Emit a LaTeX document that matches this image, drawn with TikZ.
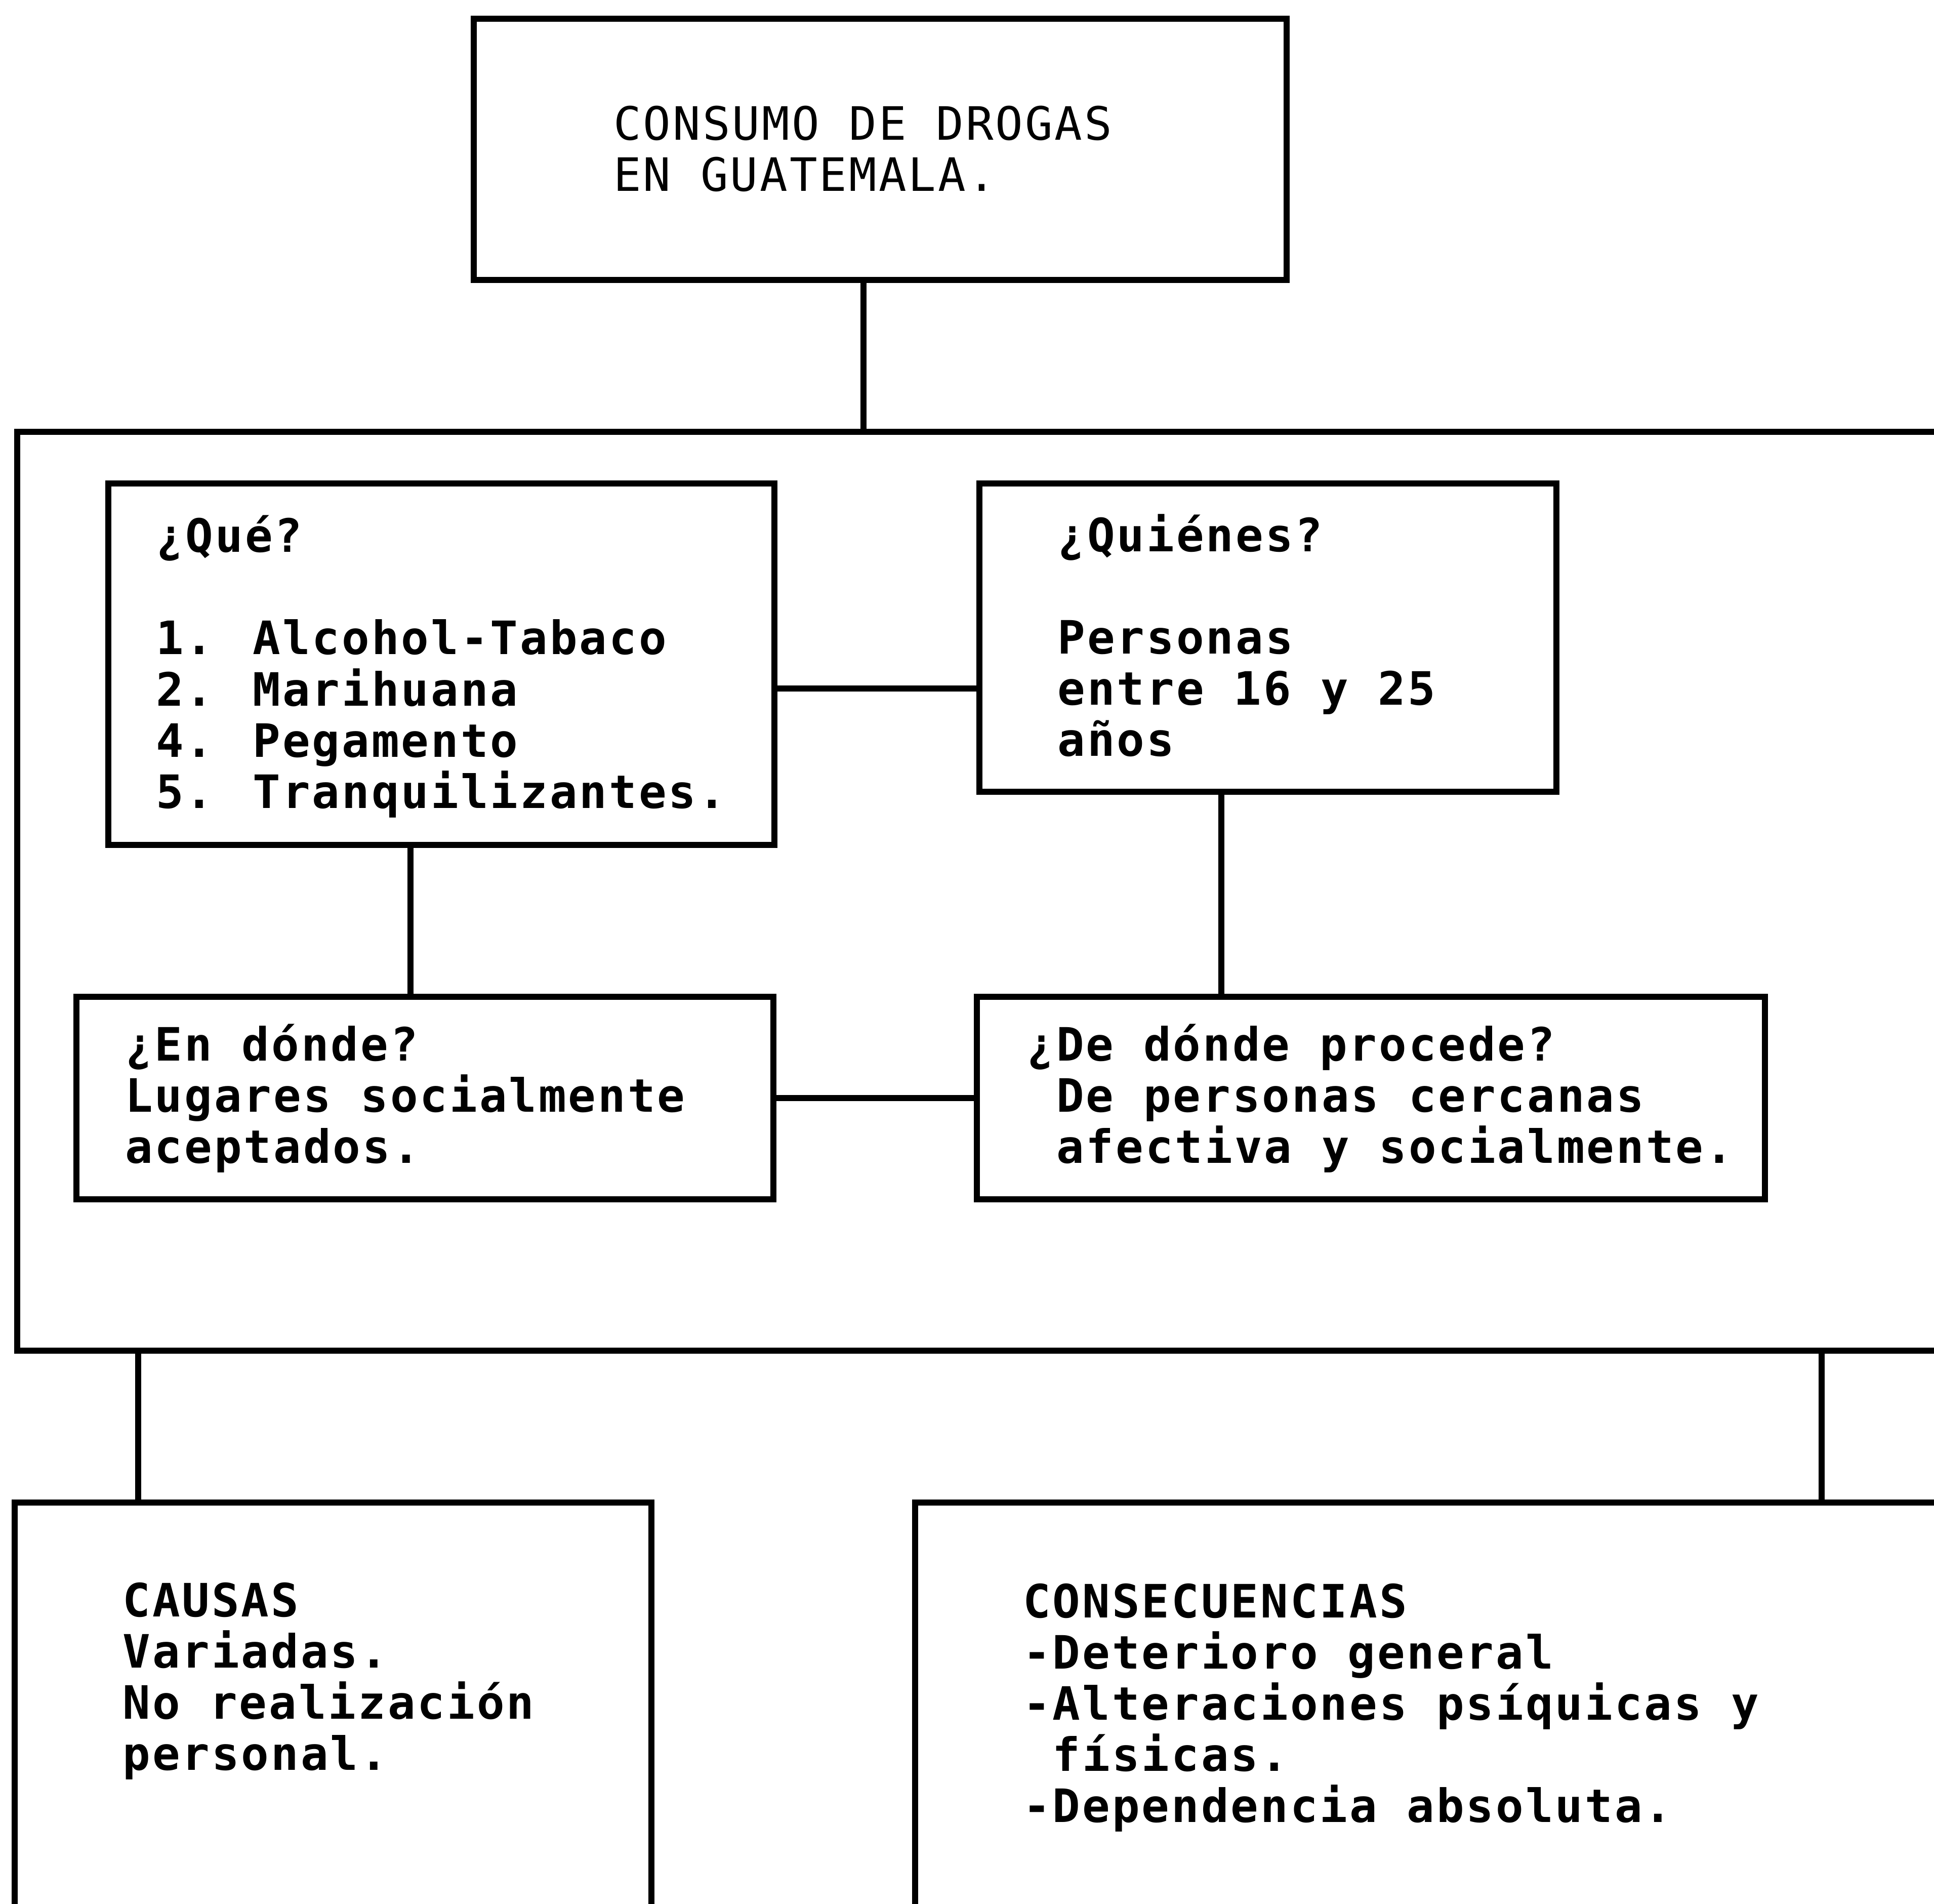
\documentclass[tikz,border=0pt]{standalone}
\usepackage{fontspec}
\newfontfamily\chartfont[LetterSpace=4.4]{DejaVu Sans Mono}
\usetikzlibrary{fit}

\begin{document}
\begin{tikzpicture}[x=0.1mm, y=-0.1mm, line width=1.4pt,
    box/.style={draw, inner sep=0pt},
    txt/.style={anchor=base west, align=left, inner sep=0pt,
        font=\chartfont\bfseries\fontsize{10.6pt}{11.8pt}\selectfont},
    headtxt/.style={txt, font=\chartfont\fontsize{10.6pt}{11.8pt}\selectfont}]

\path[use as bounding box, clip] (0,0) rectangle (1568,1543);

% Title
\node[box, fit={(384,15) (1043,227)}] (top) {};
\node[headtxt] at (495,155) {CONSUMO DE DROGAS\\EN GUATEMALA.};

% Middle frame
\node[box, fit={(14,350) (1620,1095)}] (big) {};

\node[box, fit={(88,392) (628,685)}] (que) {};
\node[txt] at (124,655) {¿Qué?\\ ~\\1. Alcohol-Tabaco\\2. Marihuana\\4. Pegamento\\5. Tranquilizantes.};

\node[box, fit={(794,392) (1262,642)}] (quienes) {};
\node[txt] at (855,613) {¿Quiénes?\\ ~\\Personas\\entre 16 y 25\\años};

\node[box, fit={(62,808) (627,972)}] (endonde) {};
\node[txt] at (99,943) {¿En dónde?\\Lugares socialmente\\aceptados.};

\node[box, fit={(792,808) (1431,972)}] (dedonde) {};
\node[txt] at (830,943) {¿De dónde procede?\\~De personas cercanas\\~afectiva y socialmente.};

% Bottom boxes
\node[box, fit={(12,1218) (528,1620)}] (causas) {};
\node[txt] at (97,1435) {CAUSAS\\Variadas.\\No realización\\personal.};

\node[box, fit={(742,1218) (1620,1620)}] (consec) {};
\node[txt] at (827,1477) {CONSECUENCIAS\\-Deterioro general\\-Alteraciones psíquicas y\\~físicas.\\-Dependencia absoluta.};

% Connectors
\coordinate (c1) at (700,0);
\coordinate (c2) at (333,0);
\coordinate (c3) at (990,0);
\coordinate (c4) at (112,0);
\coordinate (c5) at (1477,0);
\coordinate (r1) at (0,558);

\draw (top.south -| c1) -- (big.north -| c1);
\draw (que.east |- r1) -- (quienes.west |- r1);
\draw (que.south -| c2) -- (endonde.north -| c2);
\draw (quienes.south -| c3) -- (dedonde.north -| c3);
\draw (endonde) -- (dedonde);
\draw (big.south -| c4) -- (causas.north -| c4);
\draw (big.south -| c5) -- (consec.north -| c5);

\end{tikzpicture}
\end{document}
